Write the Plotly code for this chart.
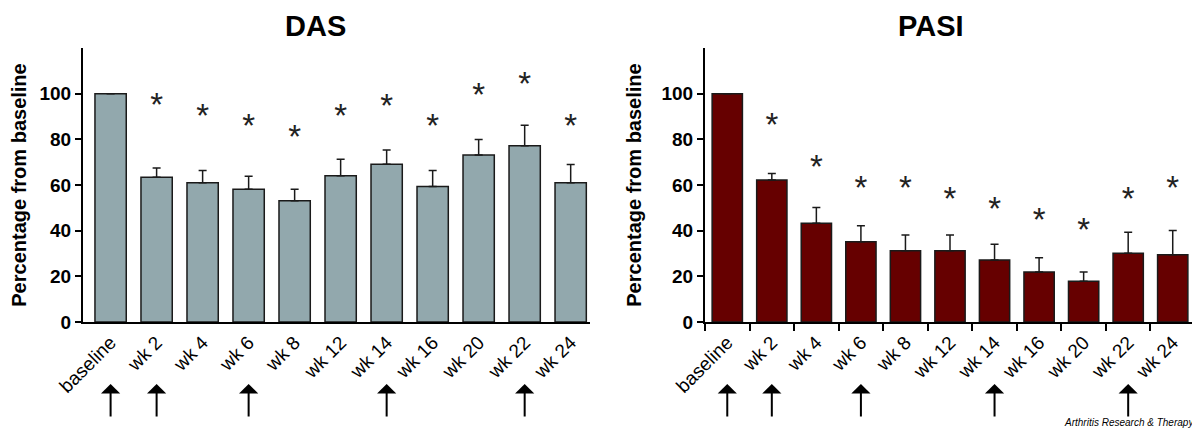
import plotly.graph_objects as go

categories = ["baseline", "wk 2", "wk 4", "wk 6", "wk 8", "wk 12", "wk 14", "wk 16", "wk 20", "wk 22", "wk 24"]

das_values = [100, 63.4, 61.0, 58.1, 53.1, 64.0, 69.1, 59.3, 73.1, 77.2, 61.0]
das_err_top = [100, 67.4, 66.3, 63.8, 58.1, 71.3, 75.3, 66.3, 79.9, 86.2, 69.0]
das_star_cats = ["wk 2", "wk 4", "wk 6", "wk 8", "wk 12", "wk 14", "wk 16", "wk 20", "wk 22", "wk 24"]
das_star_y = [93.8, 89.0, 84.6, 79.9, 89.0, 93.5, 84.6, 98.2, 103.1, 84.6]

pasi_values = [100, 62.2, 43.2, 35.1, 31.2, 31.2, 27.2, 21.9, 17.9, 30.1, 29.4]
pasi_err_top = [100, 65.0, 50.1, 42.1, 38.1, 38.1, 34.0, 28.1, 21.9, 39.3, 40.1]
pasi_star_cats = ["wk 2", "wk 4", "wk 6", "wk 8", "wk 12", "wk 14", "wk 16", "wk 20", "wk 22", "wk 24"]
pasi_star_y = [84.9, 66.6, 57.5, 57.5, 52.6, 48.2, 43.5, 39.0, 52.6, 57.5]

arrow_cats = ["baseline", "wk 2", "wk 6", "wk 14", "wk 22"]

y_ticks = [0, 20, 40, 60, 80, 100]

FONT = "Arial, Liberation Sans, sans-serif"
DAS_COLOR = "#92a8ad"
PASI_COLOR = "#660000"

# page body has an 8px margin; figure is sized so it exactly fills the window
OFF = 8
W, H = 1200 - OFF, 431 - OFF


def px(x):
    return (x - OFF) / W


def py(y):
    return 1 - (y - OFF) / H


fig = go.Figure()


def add_panel(values, err_top, star_cats, star_y, color, xa, ya):
    fig.add_trace(go.Bar(
        x=categories, y=values, marker=dict(color=color, line=dict(color="#1a1a1a", width=1.5)),
        width=0.68, xaxis=xa, yaxis=ya, showlegend=False,
        error_y=dict(type="data", symmetric=False,
                     array=[t - v for t, v in zip(err_top, values)],
                     arrayminus=[0] * len(values),
                     color="#1a1a1a", thickness=1.5, width=4),
    ))
    fig.add_trace(go.Scatter(
        x=star_cats, y=star_y, mode="text", text=["*"] * len(star_cats),
        textposition="middle center",
        textfont=dict(family=FONT, size=33, color="#222222"),
        xaxis=xa, yaxis=ya, showlegend=False, hoverinfo="skip",
    ))


add_panel(das_values, das_err_top, das_star_cats, das_star_y, DAS_COLOR, "x", "y")
add_panel(pasi_values, pasi_err_top, pasi_star_cats, pasi_star_y, PASI_COLOR, "x2", "y2")

xcommon = dict(type="category", categoryorder="array", categoryarray=categories,
               tickangle=-45, showline=True, linecolor="black", linewidth=2, automargin=False,
               tickfont=dict(family=FONT, size=19, color="black"), showgrid=False, zeroline=False)
ycommon = dict(range=[0, 120], tickvals=y_ticks, showline=True, linecolor="black", linewidth=2,
               ticks="outside", ticklen=6, tickcolor="black", tickwidth=2, automargin=False,
               tickfont=dict(family=FONT, size=19, color="black", weight="bold"),
               showgrid=False, zeroline=False,
               title=dict(text="Percentage from baseline",
                          font=dict(family=FONT, size=20, color="black", weight="bold"), standoff=14))

ydom = [py(322), py(48)]
fig.update_layout(
    template="none",
    width=W, height=H, margin=dict(l=0, r=0, t=0, b=0, autoexpand=False),
    paper_bgcolor="white", plot_bgcolor="white",
    xaxis=dict(domain=[px(83), px(590)], range=[-0.6, 10.42], ticks="", anchor="y", **xcommon),
    yaxis=dict(domain=ydom, anchor="x", **ycommon),
    xaxis2=dict(domain=[px(705), px(1195)], range=[-0.5, 10.5], ticks="outside", tickson="boundaries",
                ticklen=7, tickcolor="black", tickwidth=2, anchor="y2", **xcommon),
    yaxis2=dict(domain=ydom, anchor="x2", **ycommon),
)

anns = [
    dict(text="<b>DAS</b>", x=px(315.5), y=1.0, xref="paper", yref="paper", showarrow=False,
         font=dict(family=FONT, size=29, color="black"), xanchor="center", yanchor="top"),
    dict(text="<b>PASI</b>", x=px(930.8), y=1.0, xref="paper", yref="paper", showarrow=False,
         font=dict(family=FONT, size=29, color="black"), xanchor="center", yanchor="top"),
    dict(text="<i>Arthritis Research &amp; Therapy</i>", x=px(1196), y=py(430), xref="paper", yref="paper",
         showarrow=False, xanchor="right", yanchor="bottom",
         font=dict(family=FONT, size=10, color="black")),
]
for xr in ["x", "x2"]:
    for c in arrow_cats:
        anns.append(dict(x=c, y=py(384), xref=xr, yref="paper", text="", showarrow=True,
                         ax=0, ay=34, arrowhead=1, arrowsize=1.6, arrowwidth=2, arrowcolor="black"))
fig.update_layout(annotations=anns)

fig.write_html("out.html")
